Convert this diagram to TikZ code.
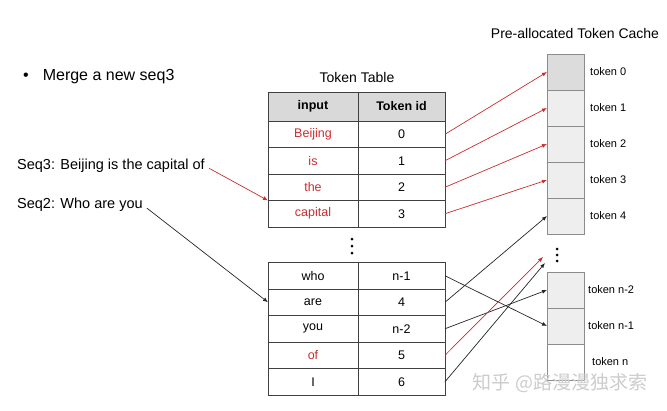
\documentclass[tikz,border=0pt]{standalone}
\usepackage{fontspec}
\setmainfont{Liberation Sans}
\newfontfamily\cjkfont{Noto Sans CJK SC}
\usetikzlibrary{positioning, arrows.meta}

\definecolor{tokred}{RGB}{200,45,45}
\definecolor{hdrgray}{RGB}{217,217,217}
\definecolor{slotgray}{RGB}{238,238,238}
\definecolor{slotdark}{RGB}{220,220,220}

\begin{document}
\begin{tikzpicture}[
    x=1pt, y=-1pt,
    >={Latex[length=5pt, width=4pt]}, % small filled tips
    % Styles
    cell/.style={ % Token table cell
        draw=black!75,
        line width=0.9pt,
        minimum width=90pt,
        minimum height=26.5pt,
        inner sep=0pt,
        outer sep=0pt,
        font=\fontsize{12.5}{14}\selectfont
    },
    idcell/.style={cell, minimum width=87pt},
    head/.style={fill=hdrgray, minimum height=29pt, font=\fontsize{12.5}{14}\selectfont\bfseries},
    word/.style={text=tokred},
    slot/.style={ % Cache slot
        draw=black!45,
        fill=slotgray,
        line width=0.8pt,
        minimum width=37pt,
        minimum height=36pt,
        inner sep=0pt,
        outer sep=0pt
    },
    slotlabel/.style={font=\fontsize{11}{12}\selectfont, inner sep=0pt},
    caption/.style={anchor=west, inner sep=0pt, font=\fontsize{14.5}{16}\selectfont},
    title/.style={font=\fontsize{14}{16}\selectfont},
    dot/.style={circle, fill=black, inner sep=0pt, minimum size=3pt},
    arrow/.style={->, line width=0.7pt, black!85},
    redarrow/.style={arrow, tokred}
]
    \useasboundingbox (0,0) rectangle (667,410);

    % Left side text
    \node[caption, font=\fontsize{16}{18}\selectfont] (merge) at (23,77) {\textbullet\hspace{14pt}Merge a new seq3};
    \node[caption] (seq3) at (17,166) {Seq3: Beijing is the capital of};
    \node[caption] (seq2) at (17,205) {Seq2: Who are you};

    % Token table, top part
    \node[title] (tabtitle) at (357,77) {Token Table};
    \node[cell, head] (h1) at (313,106.5) {input};
    \node[idcell, head] (h2) at (401.5,106.5) {Token id};
    \node[cell, word, below=0pt of h1] (w0) {Beijing};
    \node[idcell, below=0pt of h2] (t0) {0};
    \node[cell, word, below=0pt of w0] (w1) {is};
    \node[idcell, below=0pt of t0] (t1) {1};
    \node[cell, word, below=0pt of w1] (w2) {the};
    \node[idcell, below=0pt of t1] (t2) {2};
    \node[cell, word, below=0pt of w2] (w3) {capital};
    \node[idcell, below=0pt of t2] (t3) {3};

    % Gap in the table
    \node[dot] (td1) at (352,239) {};
    \node[dot] (td2) at (352,246) {};
    \node[dot] (td3) at (352,253) {};

    % Token table, bottom part
    \node[cell] (w5) at (313,275.75) {who};
    \node[idcell] (t5) at (401.5,275.75) {n-1};
    \node[cell, below=0pt of w5] (w6) {are};
    \node[idcell, below=0pt of t5] (t6) {4};
    \node[cell, below=0pt of w6] (w7) {you};
    \node[idcell, below=0pt of t6] (t7) {n-2};
    \node[cell, word, below=0pt of w7] (w8) {of};
    \node[idcell, below=0pt of t7] (t8) {5};
    \node[cell, below=0pt of w8] (w9) {I};
    \node[idcell, below=0pt of t8] (t9) {6};

    % Pre-allocated cache
    \node[title] (cachetitle) at (575,33) {Pre-allocated Token Cache};
    \node[slot, fill=slotdark] (c0) at (565.5,72) {};
    \node[slot, below=0pt of c0] (c1) {};
    \node[slot, below=0pt of c1] (c2) {};
    \node[slot, below=0pt of c2] (c3) {};
    \node[slot, below=0pt of c3] (c4) {};
    \node[dot] (cd1) at (557,249) {};
    \node[dot] (cd2) at (557,255) {};
    \node[dot] (cd3) at (557,261) {};
    \node[slot] (cn2) at (565.5,290) {};
    \node[slot, below=0pt of cn2] (cn1) {};
    \node[slot, fill=white, below=0pt of cn1] (cn) {};

    \node[slotlabel, right=6pt of c0] {token 0};
    \node[slotlabel, right=6pt of c1] {token 1};
    \node[slotlabel, right=6pt of c2] {token 2};
    \node[slotlabel, right=6pt of c3] {token 3};
    \node[slotlabel, right=6pt of c4] {token 4};
    \node[slotlabel, right=4pt of cn2] {token n-2};
    \node[slotlabel, right=4pt of cn1] {token n-1};
    \node[slotlabel, right=8pt of cn] {token n};

    \coordinate (gapa) at (543,257);
    \coordinate (gapb) at (545,263);

    % Sequences into the table
    \draw[redarrow, shorten <=5pt] (seq3.east) -- (w3.north west);
    \draw[arrow, shorten <=5pt] (seq2.east) -- (w6.west);

    % Table rows into cache slots
    \draw[redarrow] (t0.east) -- (c0.west);
    \draw[redarrow] (t1.east) -- (c1.west);
    \draw[redarrow] (t2.east) -- (c2.west);
    \draw[redarrow] (t3.east) -- (c3.west);
    \draw[arrow] (t5.east) -- (cn1.west);
    \draw[arrow] (t6.east) -- (c4.west);
    \draw[arrow] (t7.east) -- (cn2.west);
    \draw[redarrow] (t8.east) -- (gapa);
    \draw[arrow] (t9.east) -- (gapb);

    % Watermark
    \node[text=black!20, font=\cjkfont\fontsize{19}{20}\selectfont] (mark) at (560,383) {知乎 @路漫漫独求索};
\end{tikzpicture}
\end{document}
